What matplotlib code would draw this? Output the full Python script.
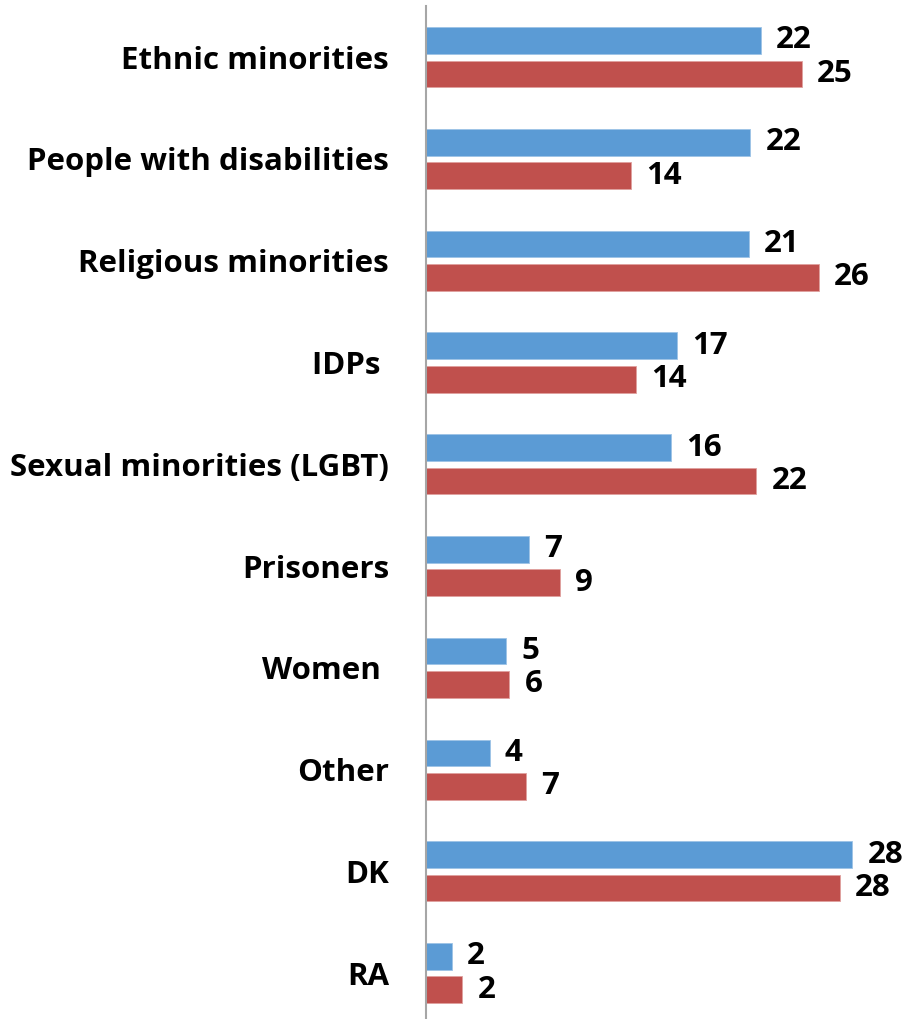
import matplotlib
matplotlib.use("Agg")
import matplotlib.pyplot as plt
import numpy as np

categories = ["Ethnic minorities", "People with disabilities", "Religious minorities",
              "IDPs ", "Sexual minorities (LGBT)", "Prisoners", "Women ", "Other", "DK", "RA"]
blue_values = [22.0, 21.3, 21.2, 16.5, 16.1, 6.8, 5.3, 4.2, 28.0, 1.7]
red_values = [24.7, 13.5, 25.8, 13.8, 21.7, 8.8, 5.5, 6.6, 27.2, 2.4]
blue_labels = ["22", "22", "21", "17", "16", "7", "5", "4", "28", "2"]
red_labels = ["25", "14", "26", "14", "22", "9", "6", "7", "28", "2"]

BLUE = "#5B9BD5"
RED = "#C0504D"

W, H = 909, 1019
fig = plt.figure(figsize=(W / 100, H / 100), dpi=100)
x0 = 425.7
scale = 15.23
top_px, bot_px = 6.3, 1024.0
xmax = 30
ax = fig.add_axes([x0 / W, 1 - bot_px / H, xmax * scale / W, (bot_px - top_px) / H])

font = "Open Sans"
fs = 22.5
y = np.arange(len(categories))
off = 0.164
h = 0.262
ax.barh(y - off, blue_values, height=h, color=BLUE, edgecolor="#9DC3E6", linewidth=0.6)
ax.barh(y + off, red_values, height=h, color=RED, edgecolor="#E0A09E", linewidth=0.6)

for i in range(len(categories)):
    ax.text(blue_values[i] + 1.0, y[i] - off, blue_labels[i], va="center", ha="left",
            fontsize=fs, fontweight="bold", family=font, color="black")
    ax.text(red_values[i] + 1.0, y[i] + off, red_labels[i], va="center", ha="left",
            fontsize=fs, fontweight="bold", family=font, color="black")

ax.set_xlim(0, xmax)
ax.set_ylim(len(categories) - 0.5, -0.5)
ax.set_yticks(y)
ax.set_yticklabels(categories, fontsize=fs, fontweight="bold", family=font)
ax.tick_params(axis="y", length=0, pad=26.4)
ax.set_xticks([])
for s in ["top", "right", "bottom"]:
    ax.spines[s].set_visible(False)
ax.spines["left"].set_color("#A6A6A6")
ax.spines["left"].set_linewidth(1.5)
ax.set_facecolor("none")

fig.savefig("out.png", dpi=100)
